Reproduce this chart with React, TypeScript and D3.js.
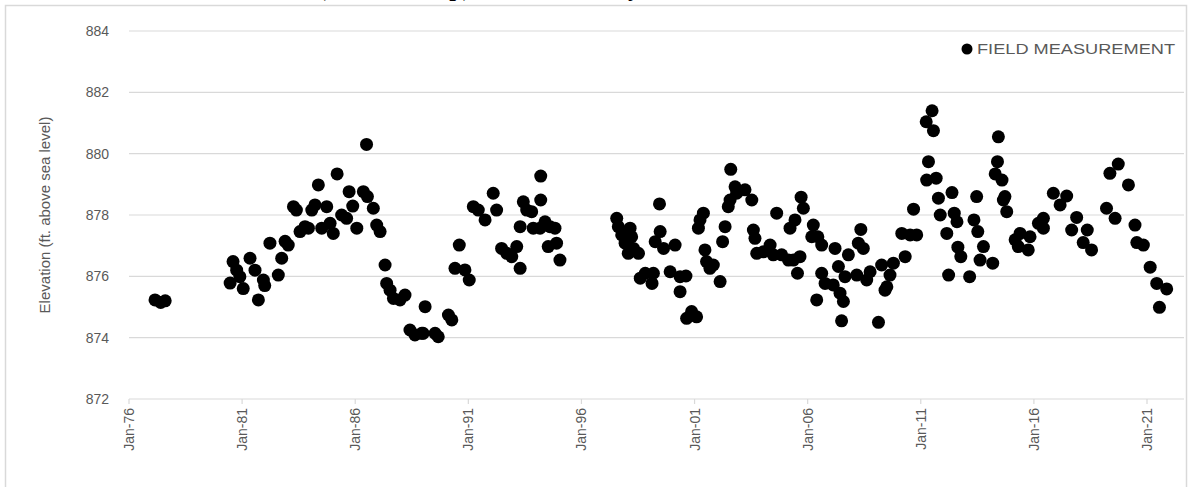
import { useEffect, useRef } from "react";
import * as d3 from "d3";

// [decimal year, elevation ft]
const measurements: [number, number][] = [
  [1977.15, 875.23], [1977.4, 875.15], [1977.6, 875.2],
  [1980.47, 875.78], [1980.6, 876.48], [1980.76, 876.2], [1980.9, 875.99], [1981.05, 875.6],
  [1981.35, 876.59], [1981.57, 876.2], [1981.72, 875.23], [1981.94, 875.88], [1982.0, 875.7],
  [1982.23, 877.08], [1982.6, 876.04], [1982.75, 876.59], [1982.9, 877.14], [1983.04, 877.02],
  [1983.27, 878.27], [1983.4, 878.16], [1983.56, 877.46], [1983.78, 877.62], [1983.93, 877.57],
  [1984.08, 878.16], [1984.22, 878.33], [1984.37, 878.98], [1984.52, 877.57], [1984.74, 878.27],
  [1984.89, 877.73], [1985.03, 877.4], [1985.2, 879.34], [1985.4, 878.0], [1985.62, 877.89],
  [1985.73, 878.76], [1985.89, 878.29], [1986.07, 877.57], [1986.36, 878.76], [1986.5, 880.3],
  [1986.54, 878.6], [1986.8, 878.22], [1986.95, 877.67], [1987.1, 877.46], [1987.32, 876.37],
  [1987.39, 875.77], [1987.54, 875.55], [1987.69, 875.28], [1987.98, 875.23], [1988.2, 875.39],
  [1988.42, 874.25], [1988.64, 874.09], [1988.94, 874.14], [1989.09, 875.01], [1989.0, 874.14],
  [1989.53, 874.14], [1989.67, 874.03], [1990.12, 874.74], [1990.27, 874.58], [1990.41, 876.26],
  [1990.6, 877.02], [1990.85, 876.21], [1991.04, 875.88], [1991.22, 878.27], [1991.44, 878.16],
  [1991.74, 877.84], [1992.1, 878.71], [1992.25, 878.16], [1992.47, 876.91], [1992.7, 876.75],
  [1992.92, 876.64], [1993.14, 876.97], [1993.29, 876.26], [1993.29, 877.62], [1993.43, 878.43],
  [1993.58, 878.16], [1993.8, 878.11], [1993.87, 877.57], [1994.2, 879.27], [1994.2, 878.49],
  [1994.17, 877.57], [1994.39, 877.78], [1994.61, 877.62], [1994.83, 877.57], [1994.53, 876.97],
  [1994.9, 877.08], [1995.05, 876.53],
  [1997.56, 877.89], [1997.63, 877.62], [1997.78, 877.35], [1997.93, 877.08], [1998.15, 877.57],
  [1998.22, 877.29], [1998.3, 876.91], [1998.07, 876.75], [1998.52, 876.75], [1998.6, 875.94],
  [1998.82, 876.1], [1999.12, 875.77], [1999.18, 876.1], [1999.45, 878.36], [1999.26, 877.13],
  [1999.48, 877.46], [1999.63, 876.91], [1999.92, 876.15], [2000.14, 877.02], [2000.36, 875.99],
  [2000.36, 875.5], [2000.62, 876.01], [2000.65, 874.63], [2000.87, 874.85], [2001.09, 874.68],
  [2001.17, 877.57], [2001.24, 877.84], [2001.39, 878.06], [2001.46, 876.86], [2001.53, 876.48],
  [2001.68, 876.26], [2001.83, 876.37], [2002.13, 875.83], [2002.24, 877.13], [2002.35, 877.62],
  [2002.49, 878.27], [2002.57, 878.49], [2002.6, 879.49], [2002.79, 878.92], [2002.86, 878.71],
  [2003.23, 878.82], [2003.53, 878.49], [2003.6, 877.51], [2003.67, 877.24], [2003.75, 876.75],
  [2004.04, 876.8], [2004.34, 877.02], [2004.63, 878.06], [2004.48, 876.7], [2004.85, 876.7],
  [2005.15, 876.53], [2005.37, 876.53], [2005.22, 877.57], [2005.44, 877.84], [2005.66, 876.64],
  [2005.55, 876.1], [2005.71, 878.58], [2005.81, 878.22], [2006.25, 877.67], [2006.18, 877.29],
  [2006.4, 875.23], [2006.45, 877.29], [2006.62, 877.02], [2006.62, 876.1], [2006.77, 875.77],
  [2007.21, 876.91], [2007.13, 875.72], [2007.36, 876.32], [2007.43, 875.45], [2007.58, 875.18],
  [2007.5, 874.55], [2007.65, 875.99], [2007.8, 876.7], [2008.17, 876.04], [2008.24, 877.08],
  [2008.35, 877.53], [2008.46, 876.91], [2008.61, 875.88], [2008.76, 876.15], [2009.13, 874.5],
  [2009.27, 876.37], [2009.42, 875.55], [2009.5, 875.66], [2009.64, 876.04], [2009.79, 876.43],
  [2010.16, 877.4], [2010.31, 876.64], [2010.53, 877.35], [2010.68, 878.19], [2010.82, 877.35],
  [2011.26, 879.14], [2011.34, 879.74], [2011.24, 881.04], [2011.5, 881.4], [2011.56, 880.75],
  [2011.68, 879.2], [2011.78, 878.55], [2011.86, 878.0], [2012.15, 877.4], [2012.23, 876.04],
  [2012.38, 878.73], [2012.48, 878.06], [2012.6, 877.78], [2012.64, 876.95], [2012.77, 876.64],
  [2013.16, 875.99], [2013.35, 877.84], [2013.47, 878.6], [2013.52, 877.46], [2013.62, 876.53],
  [2013.77, 876.97], [2014.18, 876.43], [2014.43, 880.55], [2014.39, 879.74], [2014.29, 879.34],
  [2014.59, 879.14], [2014.65, 878.49], [2014.72, 878.6], [2014.8, 878.11],
  [2015.17, 877.19], [2015.39, 877.4], [2015.31, 876.97], [2015.75, 876.86], [2015.83, 877.29],
  [2016.2, 877.73], [2016.42, 877.89], [2016.42, 877.57], [2016.86, 878.71], [2017.16, 878.33],
  [2017.45, 878.62], [2017.67, 877.51], [2017.89, 877.92], [2018.36, 877.51], [2018.18, 877.1],
  [2018.55, 876.86], [2019.21, 878.22], [2019.36, 879.36], [2019.73, 879.66], [2019.59, 877.89],
  [2020.18, 878.98], [2020.47, 877.67], [2020.55, 877.1], [2020.84, 877.02], [2021.14, 876.3],
  [2021.43, 875.77], [2021.87, 875.59], [2021.55, 874.99],
];

const yTicks = [872, 874, 876, 878, 880, 882, 884];
const xTickYears = [1976, 1981, 1986, 1991, 1996, 2001, 2006, 2011, 2016, 2021];

const W = 1191;
const H = 487;
const font = "'Liberation Sans', Arial, sans-serif";

export default function App() {
  const ref = useRef<SVGSVGElement>(null);

  useEffect(() => {
    if (!ref.current) return;
    const svg = d3.select(ref.current);
    svg.selectAll("*").remove();

    const x = d3.scaleLinear().domain([1976, 2021]).range([129, 1147]);
    const y = d3.scaleLinear().domain([872, 884]).range([399, 31]);
    const x0 = 129;
    const x1 = 1184;

    // title mostly cut off above the frame
    svg.append("text")
      .attr("x", 318).attr("y", -4)
      .attr("font-family", "'Liberation Serif', 'Times New Roman', serif")
      .attr("font-weight", "bold").attr("font-size", 24)
      .text("(Lake Backup) Elevation Study");

    svg.append("rect")
      .attr("x", 5.5).attr("y", 5.5).attr("width", 1181).attr("height", 520)
      .attr("fill", "none").attr("stroke", "#d9d9d9").attr("stroke-width", 1.5);

    // grid
    svg.append("g").selectAll("line").data(yTicks).join("line")
      .attr("x1", x0).attr("x2", x1)
      .attr("y1", (d) => y(d)).attr("y2", (d) => y(d))
      .attr("stroke", "#d9d9d9").attr("stroke-width", 1.2);

    svg.append("g").selectAll("text").data(yTicks).join("text")
      .attr("x", 109).attr("y", (d) => y(d) + 5)
      .attr("text-anchor", "end")
      .attr("font-family", font).attr("font-size", 14).attr("fill", "#595959")
      .text((d) => d);

    // x ticks
    svg.append("g").selectAll("line").data(xTickYears).join("line")
      .attr("x1", (d) => x(d)).attr("x2", (d) => x(d))
      .attr("y1", 399).attr("y2", 404)
      .attr("stroke", "#d9d9d9").attr("stroke-width", 1.2);

    svg.append("g").selectAll("text").data(xTickYears).join("text")
      .attr("transform", (d) => `translate(${x(d) + 5},${408}) rotate(-90)`)
      .attr("text-anchor", "end")
      .attr("font-family", font).attr("font-size", 14).attr("fill", "#595959")
      .text((d) => `Jan-${String(d % 100).padStart(2, "0")}`);

    svg.append("text")
      .attr("transform", `translate(50,215) rotate(-90)`)
      .attr("text-anchor", "middle")
      .attr("font-family", font).attr("font-size", 15).attr("fill", "#595959")
      .text("Elevation (ft. above sea level)");

    // points
    svg.append("g").selectAll("circle").data(measurements).join("circle")
      .attr("cx", (d) => x(d[0])).attr("cy", (d) => y(d[1]))
      .attr("r", 6.5).attr("fill", "#000");

    // legend
    svg.append("circle").attr("cx", 967).attr("cy", 49).attr("r", 5.5).attr("fill", "#000");
    svg.append("text")
      .attr("x", 977).attr("y", 54)
      .attr("font-family", font).attr("font-size", 14).attr("fill", "#595959")
      .attr("textLength", 198).attr("lengthAdjust", "spacingAndGlyphs")
      .text("FIELD MEASUREMENT");
  }, []);

  return (
    <svg
      ref={ref}
      width={W}
      height={H}
      style={{ position: "absolute", left: 0, top: 0, background: "#fff" }}
    />
  );
}
